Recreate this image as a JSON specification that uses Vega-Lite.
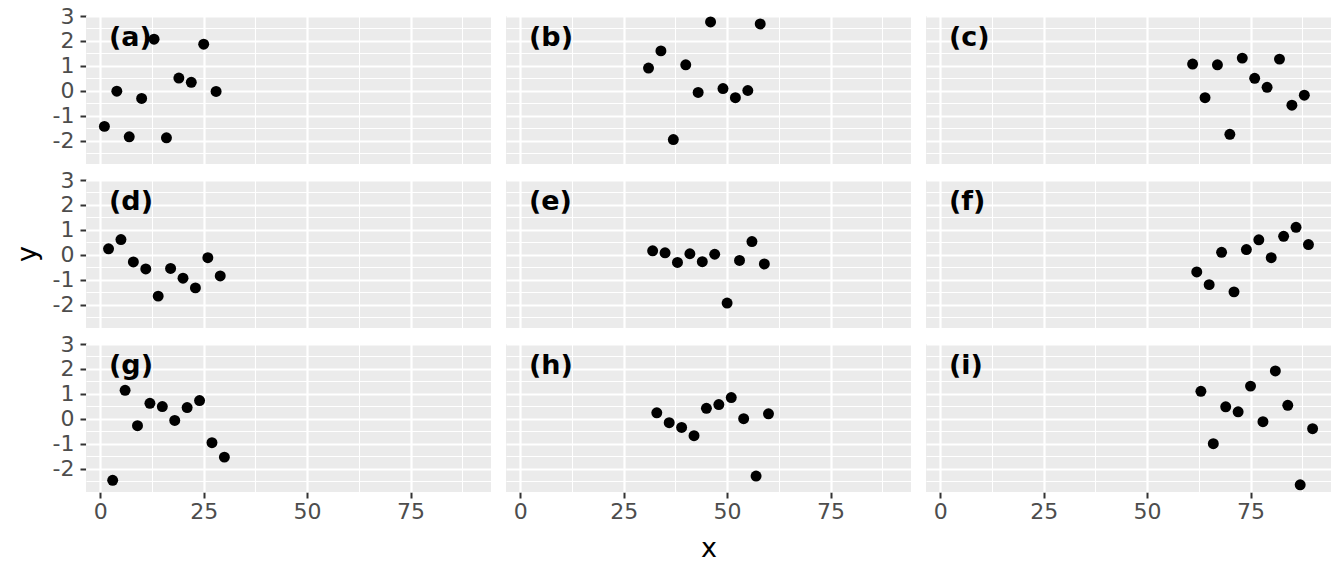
{
  "$schema": "https://vega.github.io/schema/vega-lite/v6.json",
  "background": "white",
  "padding": {"left": 14, "top": 5, "right": 14, "bottom": 10},
  "data": {
    "values": [
      {"panel": "(a)", "row": 1, "col": 1, "x": 1, "y": -1.43},
      {"panel": "(a)", "row": 1, "col": 1, "x": 4, "y": -0.02},
      {"panel": "(a)", "row": 1, "col": 1, "x": 7, "y": -1.85},
      {"panel": "(a)", "row": 1, "col": 1, "x": 10, "y": -0.31},
      {"panel": "(a)", "row": 1, "col": 1, "x": 13, "y": 2.07},
      {"panel": "(a)", "row": 1, "col": 1, "x": 16, "y": -1.89},
      {"panel": "(a)", "row": 1, "col": 1, "x": 19, "y": 0.51},
      {"panel": "(a)", "row": 1, "col": 1, "x": 22, "y": 0.34},
      {"panel": "(a)", "row": 1, "col": 1, "x": 25, "y": 1.87},
      {"panel": "(a)", "row": 1, "col": 1, "x": 28, "y": -0.03},
      {"panel": "(b)", "row": 1, "col": 2, "x": 31, "y": 0.91},
      {"panel": "(b)", "row": 1, "col": 2, "x": 34, "y": 1.6},
      {"panel": "(b)", "row": 1, "col": 2, "x": 37, "y": -1.96},
      {"panel": "(b)", "row": 1, "col": 2, "x": 40, "y": 1.04},
      {"panel": "(b)", "row": 1, "col": 2, "x": 43, "y": -0.07},
      {"panel": "(b)", "row": 1, "col": 2, "x": 46, "y": 2.76},
      {"panel": "(b)", "row": 1, "col": 2, "x": 49, "y": 0.09},
      {"panel": "(b)", "row": 1, "col": 2, "x": 52, "y": -0.28},
      {"panel": "(b)", "row": 1, "col": 2, "x": 55, "y": 0.01},
      {"panel": "(b)", "row": 1, "col": 2, "x": 58, "y": 2.68},
      {"panel": "(c)", "row": 1, "col": 3, "x": 61, "y": 1.07},
      {"panel": "(c)", "row": 1, "col": 3, "x": 64, "y": -0.28},
      {"panel": "(c)", "row": 1, "col": 3, "x": 67, "y": 1.04},
      {"panel": "(c)", "row": 1, "col": 3, "x": 70, "y": -1.75},
      {"panel": "(c)", "row": 1, "col": 3, "x": 73, "y": 1.31},
      {"panel": "(c)", "row": 1, "col": 3, "x": 76, "y": 0.5},
      {"panel": "(c)", "row": 1, "col": 3, "x": 79, "y": 0.14},
      {"panel": "(c)", "row": 1, "col": 3, "x": 82, "y": 1.27},
      {"panel": "(c)", "row": 1, "col": 3, "x": 85, "y": -0.58},
      {"panel": "(c)", "row": 1, "col": 3, "x": 88, "y": -0.18},
      {"panel": "(d)", "row": 2, "col": 1, "x": 2, "y": 0.24},
      {"panel": "(d)", "row": 2, "col": 1, "x": 5, "y": 0.61},
      {"panel": "(d)", "row": 2, "col": 1, "x": 8, "y": -0.29},
      {"panel": "(d)", "row": 2, "col": 1, "x": 11, "y": -0.57},
      {"panel": "(d)", "row": 2, "col": 1, "x": 14, "y": -1.66},
      {"panel": "(d)", "row": 2, "col": 1, "x": 17, "y": -0.55},
      {"panel": "(d)", "row": 2, "col": 1, "x": 20, "y": -0.94},
      {"panel": "(d)", "row": 2, "col": 1, "x": 23, "y": -1.33},
      {"panel": "(d)", "row": 2, "col": 1, "x": 26, "y": -0.12},
      {"panel": "(d)", "row": 2, "col": 1, "x": 29, "y": -0.85},
      {"panel": "(e)", "row": 2, "col": 2, "x": 32, "y": 0.16},
      {"panel": "(e)", "row": 2, "col": 2, "x": 35, "y": 0.08},
      {"panel": "(e)", "row": 2, "col": 2, "x": 38, "y": -0.31},
      {"panel": "(e)", "row": 2, "col": 2, "x": 41, "y": 0.04},
      {"panel": "(e)", "row": 2, "col": 2, "x": 44, "y": -0.28},
      {"panel": "(e)", "row": 2, "col": 2, "x": 47, "y": 0.02},
      {"panel": "(e)", "row": 2, "col": 2, "x": 50, "y": -1.94},
      {"panel": "(e)", "row": 2, "col": 2, "x": 53, "y": -0.23},
      {"panel": "(e)", "row": 2, "col": 2, "x": 56, "y": 0.53},
      {"panel": "(e)", "row": 2, "col": 2, "x": 59, "y": -0.37},
      {"panel": "(f)", "row": 2, "col": 3, "x": 62, "y": -0.69},
      {"panel": "(f)", "row": 2, "col": 3, "x": 65, "y": -1.2},
      {"panel": "(f)", "row": 2, "col": 3, "x": 68, "y": 0.1},
      {"panel": "(f)", "row": 2, "col": 3, "x": 71, "y": -1.49},
      {"panel": "(f)", "row": 2, "col": 3, "x": 74, "y": 0.21},
      {"panel": "(f)", "row": 2, "col": 3, "x": 77, "y": 0.6},
      {"panel": "(f)", "row": 2, "col": 3, "x": 80, "y": -0.12},
      {"panel": "(f)", "row": 2, "col": 3, "x": 83, "y": 0.74},
      {"panel": "(f)", "row": 2, "col": 3, "x": 86, "y": 1.1},
      {"panel": "(f)", "row": 2, "col": 3, "x": 89, "y": 0.41},
      {"panel": "(g)", "row": 3, "col": 1, "x": 3, "y": -2.47},
      {"panel": "(g)", "row": 3, "col": 1, "x": 6, "y": 1.14},
      {"panel": "(g)", "row": 3, "col": 1, "x": 9, "y": -0.28},
      {"panel": "(g)", "row": 3, "col": 1, "x": 12, "y": 0.62},
      {"panel": "(g)", "row": 3, "col": 1, "x": 15, "y": 0.49},
      {"panel": "(g)", "row": 3, "col": 1, "x": 18, "y": -0.07},
      {"panel": "(g)", "row": 3, "col": 1, "x": 21, "y": 0.45},
      {"panel": "(g)", "row": 3, "col": 1, "x": 24, "y": 0.73},
      {"panel": "(g)", "row": 3, "col": 1, "x": 27, "y": -0.96},
      {"panel": "(g)", "row": 3, "col": 1, "x": 30, "y": -1.54},
      {"panel": "(h)", "row": 3, "col": 2, "x": 33, "y": 0.24},
      {"panel": "(h)", "row": 3, "col": 2, "x": 36, "y": -0.16},
      {"panel": "(h)", "row": 3, "col": 2, "x": 39, "y": -0.35},
      {"panel": "(h)", "row": 3, "col": 2, "x": 42, "y": -0.68},
      {"panel": "(h)", "row": 3, "col": 2, "x": 45, "y": 0.42},
      {"panel": "(h)", "row": 3, "col": 2, "x": 48, "y": 0.57},
      {"panel": "(h)", "row": 3, "col": 2, "x": 51, "y": 0.85},
      {"panel": "(h)", "row": 3, "col": 2, "x": 54, "y": 0.0},
      {"panel": "(h)", "row": 3, "col": 2, "x": 57, "y": -2.3},
      {"panel": "(h)", "row": 3, "col": 2, "x": 60, "y": 0.2},
      {"panel": "(i)", "row": 3, "col": 3, "x": 63, "y": 1.1},
      {"panel": "(i)", "row": 3, "col": 3, "x": 66, "y": -1.0},
      {"panel": "(i)", "row": 3, "col": 3, "x": 69, "y": 0.48},
      {"panel": "(i)", "row": 3, "col": 3, "x": 72, "y": 0.28},
      {"panel": "(i)", "row": 3, "col": 3, "x": 75, "y": 1.31},
      {"panel": "(i)", "row": 3, "col": 3, "x": 78, "y": -0.12},
      {"panel": "(i)", "row": 3, "col": 3, "x": 81, "y": 1.92},
      {"panel": "(i)", "row": 3, "col": 3, "x": 84, "y": 0.54},
      {"panel": "(i)", "row": 3, "col": 3, "x": 87, "y": -2.65},
      {"panel": "(i)", "row": 3, "col": 3, "x": 90, "y": -0.4}
    ]
  },
  "facet": {
    "row": {
      "field": "row",
      "type": "ordinal",
      "title": "y",
      "header": {
        "labels": false,
        "titleFont": "DejaVu Sans",
        "titleFontSize": 27,
        "titleFontWeight": "normal",
        "titleColor": "black",
        "titlePadding": 0
      }
    },
    "column": {
      "field": "col",
      "type": "ordinal",
      "title": "x",
      "header": {
        "labels": false,
        "labelOrient": "bottom",
        "titleOrient": "bottom",
        "titleFont": "DejaVu Sans",
        "titleFontSize": 27,
        "titleFontWeight": "normal",
        "titleColor": "black",
        "titlePadding": 4
      }
    }
  },
  "spacing": {"row": 16, "column": 15},
  "spec": {
    "width": 405,
    "height": 148,
    "encoding": {
      "x": {
        "field": "x",
        "type": "quantitative",
        "title": null,
        "scale": {"domain": [-3.45, 94.45], "nice": false, "zero": false},
        "axis": {
          "values": [0, 12.5, 25, 37.5, 50, 62.5, 75, 87.5],
          "labelExpr": "datum.value % 25 === 0 ? '' + datum.value : ''",
          "gridWidth": {"condition": {"test": "datum.value % 25 === 0", "value": 2.2}, "value": 1.1},
          "tickOpacity": {"condition": {"test": "datum.value % 25 === 0", "value": 1}, "value": 0},
          "labelPadding": 3
        }
      },
      "y": {
        "field": "y",
        "type": "quantitative",
        "title": null,
        "scale": {"domain": [-2.94, 3.0], "nice": false, "zero": false},
        "axis": {
          "values": [-2.5, -2, -1.5, -1, -0.5, 0, 0.5, 1, 1.5, 2, 2.5, 3],
          "labelExpr": "datum.value % 1 === 0 ? '' + datum.value : ''",
          "gridWidth": {"condition": {"test": "datum.value % 1 === 0", "value": 2.2}, "value": 1.1},
          "tickOpacity": {"condition": {"test": "datum.value % 1 === 0", "value": 1}, "value": 0},
          "labelPadding": 6
        }
      }
    },
    "layer": [
      {
        "mark": {"type": "circle", "size": 120, "color": "black", "opacity": 1}
      },
      {
        "transform": [
          {"filter": "datum.x % 30 >= 1 && datum.x % 30 <= 3"}
        ],
        "mark": {
          "type": "text",
          "align": "left",
          "baseline": "middle",
          "font": "DejaVu Sans",
          "fontSize": 27,
          "fontWeight": "bold",
          "color": "black"
        },
        "encoding": {
          "x": {"datum": 2.1},
          "y": {"datum": 2.12},
          "text": {"field": "panel", "type": "nominal"}
        }
      }
    ]
  },
  "config": {
    "view": {"fill": "#EBEBEB", "stroke": null},
    "axis": {
      "domain": false,
      "gridColor": "white",
      "tickColor": "#333333",
      "tickWidth": 2,
      "tickSize": 6,
      "labelColor": "#4D4D4D",
      "labelFont": "DejaVu Sans",
      "labelFontSize": 22
    }
  }
}
